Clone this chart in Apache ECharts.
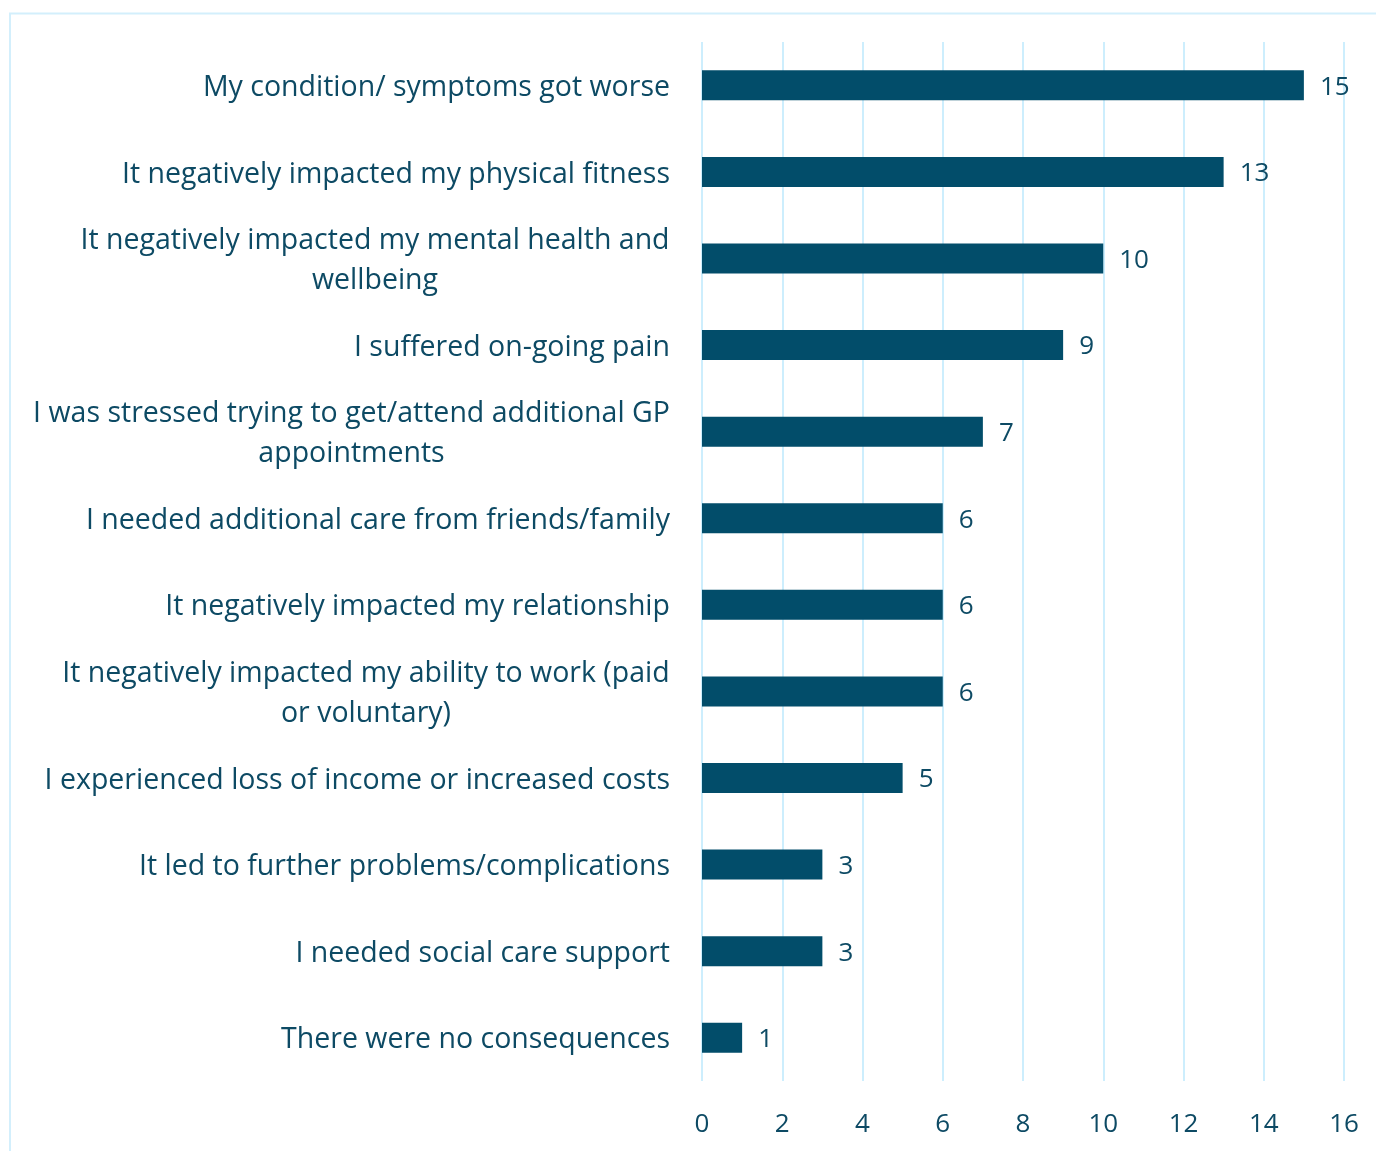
<!DOCTYPE html>
<html>
<head>
<meta charset="utf-8">
<script src="https://cdn.jsdelivr.net/npm/echarts@6/dist/echarts.min.js"></script>
<style>
  html, body { margin: 0; padding: 0; background: #ffffff; }
  #chart { width: 1376px; height: 1151px; }
</style>
</head>
<body>
<div id="chart"></div>
<script>
// Reported consequences, top to bottom
const categories = [
  'My condition/ symptoms got worse',
  'It negatively impacted my physical fitness',
  'It negatively impacted my mental health and\nwellbeing',
  'I suffered on-going pain',
  'I was stressed trying to get/attend additional GP\nappointments',
  'I needed additional care from friends/family',
  'It negatively impacted my relationship',
  'It negatively impacted my ability to work (paid\nor voluntary)',
  'I experienced loss of income or increased costs',
  'It led to further problems/complications',
  'I needed social care support',
  'There were no consequences'
];
const counts = [15, 13, 10, 9, 7, 6, 6, 6, 5, 3, 3, 1];
const xTicks = [0, 2, 4, 6, 8, 10, 12, 14, 16];

const FONT = 'Open Sans';
const LABEL_SIZE = 28.5;
const NUM_SIZE = 26;
const TEXT_COLOR = '#0d4a64';
const BAR_COLOR = '#024d6a';
const GRID_COLOR = '#cdeefd';

// Multi-line labels: centre each line inside a box as wide as the longest line
const measureCtx = document.createElement('canvas').getContext('2d');
measureCtx.font = LABEL_SIZE + 'px "' + FONT + '"';
const richStyles = {};
const labelText = {};
categories.forEach((c, i) => {
  const lines = c.split('\n');
  if (lines.length > 1) {
    const w = Math.ceil(Math.max(...lines.map(l => measureCtx.measureText(l).width)));
    const key = 'w' + i;
    richStyles[key] = { width: w, align: 'center', fontFamily: FONT, fontSize: LABEL_SIZE, color: TEXT_COLOR, lineHeight: 40 };
    labelText[c] = lines.map(l => '{' + key + '|' + l + '}').join('\n');
  }
});

const chart = echarts.init(document.getElementById('chart'));
chart.setOption({
  animation: false,
  backgroundColor: '#ffffff',
  textStyle: { fontFamily: FONT },
  graphic: [{
    type: 'rect',
    shape: { x: 10, y: 13.5, width: 1420, height: 1200 },
    style: { fill: 'none', stroke: '#d3effc', lineWidth: 2 },
    silent: true
  }],
  grid: { left: 702, right: 32, top: 42, bottom: 70 },
  xAxis: {
    type: 'value',
    min: 0,
    max: 16,
    interval: 2,
    axisLine: { show: false },
    axisTick: { show: false },
    splitLine: { show: true, lineStyle: { color: GRID_COLOR, width: 2 } },
    axisLabel: {
      margin: 31,
      fontFamily: FONT,
      fontSize: NUM_SIZE,
      color: TEXT_COLOR,
      formatter: v => xTicks.includes(v) ? String(v) : ''
    }
  },
  yAxis: {
    type: 'category',
    data: categories,
    inverse: true,
    axisLine: { show: false },
    axisTick: { show: false },
    axisLabel: {
      margin: 32,
      padding: [5, 0, 0, 0],
      fontFamily: FONT,
      fontSize: LABEL_SIZE,
      color: TEXT_COLOR,
      lineHeight: 40,
      align: 'right',
      rich: richStyles,
      formatter: v => labelText[v] || v
    }
  },
  series: [{
    type: 'bar',
    data: counts,
    barWidth: 30,
    itemStyle: { color: BAR_COLOR },
    label: {
      show: true,
      position: 'right',
      distance: 16,
      offset: [0, 2],
      fontFamily: FONT,
      fontSize: NUM_SIZE,
      color: TEXT_COLOR
    }
  }]
});
</script>
</body>
</html>
